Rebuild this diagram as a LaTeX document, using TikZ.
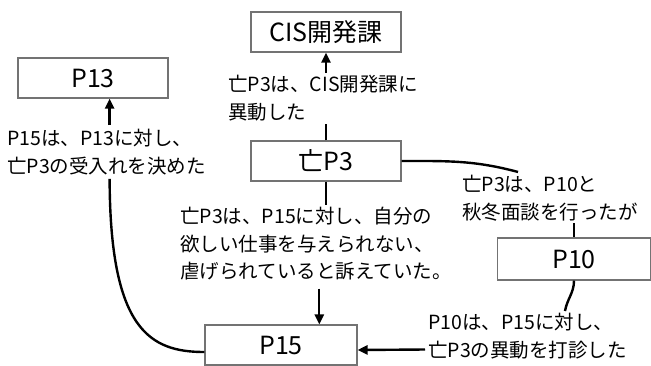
\documentclass[tikz,border=0pt]{standalone}
\usepackage{fontspec}
\setmainfont{Noto Sans CJK JP}
\usetikzlibrary{arrows.meta,calc}
\tikzset{
  box/.style={draw=black!55, line width=1.1pt, minimum width=150pt, minimum height=40pt, inner sep=0pt, font=\fontsize{25}{28}\selectfont},
  lbl/.style={align=left, anchor=west, inner sep=0pt, font=\fontsize{19.5}{27.5}\selectfont},
  con/.style={line width=2.4pt, draw=black},
  arr/.style={con, -{Triangle[length=10pt,width=9pt]}},
}
\begin{document}
\begin{tikzpicture}[x=1pt,y=-1pt]
\useasboundingbox (0,0) rectangle (651,365);
\node[box] (cis) at (326,32) {CIS開発課};
\node[box] (p13) at (93,78) {P13};
\node[box] (p3) at (326,161) {亡P3};
\node[box, minimum width=153pt, minimum height=42pt] (p10) at (574,259) {P10};
\node[box, minimum width=152pt] (p15) at (281,345) {P15};

\node[lbl] (t1) at (228,98) {亡P3は、CIS開発課に\\異動した};
\node[lbl] (t2) at (7,152) {P15は、P13に対し、\\亡P3の受入れを決めた};
\node[lbl] (t3) at (462,198) {亡P3は、P10と\\秋冬面談を行ったが};
\node[lbl] (t4) at (180,244) {亡P3は、P15に対し、自分の\\欲しい仕事を与えられない、\\虐げられていると訴えていた。};
\node[lbl] (t5) at (428,336) {P10は、P15に対し、\\亡P3の異動を打診した};

\coordinate (p15top) at ($(p15.north west)!0.75!(p15.north east)$);
\coordinate (p13bot) at ($(p13.south west)!0.61!(p13.south east)$);

\draw[arr] ([yshift=2pt]cis.south |- t1.north) -- (cis.south);
\draw[con] (p3.north) -- ([yshift=-3pt]p3.north |- t1.south);
\draw[con] (p3.south) -- ([yshift=2pt]p3.south |- t4.north);
\draw[arr] ([yshift=-8pt]p15top |- t4.south) -- (p15top);
\draw[con] (p3.east) to[out=0,in=165] ([xshift=56pt,yshift=3pt]t3.north west);
\draw[con] ([yshift=-2pt]p10.north |- t3.south) -- (p10.north);
\draw[con] (p10.south) to[out=-90,in=80] ([xshift=137pt,yshift=2pt]t5.north west);
\draw[arr] ([xshift=-3pt,yshift=-13.5pt]t5.west) -- ([yshift=-5pt]p15.east);
\draw[arr] ([yshift=4pt]p13bot |- t2.north) -- (p13bot);
\draw[con] ([yshift=-4pt]p13bot |- t2.south) .. controls (110,330) and (150,352) .. ([yshift=-7pt]p15.west);
\end{tikzpicture}
\end{document}
